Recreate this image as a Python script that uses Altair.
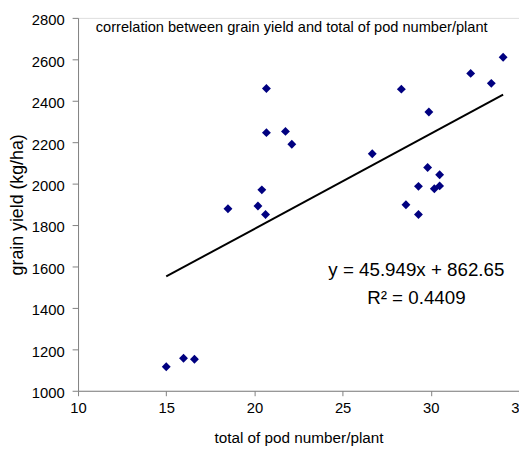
import altair as alt
import pandas as pd

# total of pod number/plant
pods = [15.0, 15.98, 16.6, 18.5, 20.2, 20.42, 20.63, 20.68, 20.68, 21.76, 22.12,
        26.68, 28.33, 28.59, 29.3, 29.3, 29.82, 29.89, 30.2, 30.5, 30.5,
        32.26, 33.43, 34.1]
# grain yield (kg/ha)
yield_ = [1116, 1157, 1152, 1879, 1892, 1970, 1851, 2459, 2246, 2252, 2190,
          2144, 2456, 1898, 1987, 1851, 2078, 2346, 1975, 1989, 2043,
          2532, 2484, 2610]

slope = 45.949
intercept = 862.65
eq_text = ["y = 45.949x + 862.65", "R² = 0.4409"]
title_text = "correlation between grain yield and total of pod number/plant"

df = pd.DataFrame({"pods": pods, "yield": yield_})
trend = pd.DataFrame({"pods": [min(pods), max(pods)]})

FONT = "Liberation Sans"

xscale = alt.Scale(domain=[10, 35], nice=False, zero=False)
yscale = alt.Scale(domain=[1000, 2800], nice=False, zero=False)

xaxis = alt.Axis(values=[10, 15, 20, 25, 30, 35], title="total of pod number/plant",
                 format="d",
                 grid=False, domainColor="#808080", tickColor="#808080",
                 tickSize=5, labelPadding=5, labelFontSize=15, labelColor="black",
                 titleFontSize=15.5, titleFontWeight="normal", titleColor="black",
                 titleX=223.5, titleY=47, titleBaseline="middle", titleAlign="center",
                 labelFont=FONT, titleFont=FONT, labelFlush=False,
                 labelOverlap=False)
yaxis = alt.Axis(values=list(range(1000, 2801, 200)), title="grain yield (kg/ha)",
                 format="d",
                 grid=False, domainColor="#808080", tickColor="#808080",
                 tickSize=6, labelPadding=8, labelFontSize=15, labelColor="black",
                 titleFontSize=18, titleFontWeight="normal", titleColor="black",
                 titleX=-61, titleY=189, titleBaseline="middle", titleAlign="center",
                 titleAngle=270,
                 labelFont=FONT, titleFont=FONT, labelFlush=False,
                 labelOverlap=False, labelOffset=2)

points = alt.Chart(df).mark_point(shape="diamond", filled=True, color="#000080",
                                  size=81, opacity=1).encode(
    x=alt.X("pods:Q", scale=xscale, axis=xaxis),
    y=alt.Y("yield:Q", scale=yscale, axis=yaxis),
)

line = alt.Chart(trend).transform_calculate(
    yhat=f"{slope} * datum.pods + {intercept}"
).mark_line(color="black", strokeWidth=2).encode(
    x=alt.X("pods:Q", scale=xscale),
    y=alt.Y("yhat:Q", scale=yscale),
)

eq1 = alt.Chart(pd.DataFrame({"t": [eq_text[0]]})).mark_text(
    font=FONT, fontSize=19, color="black", align="center", baseline="alphabetic"
).encode(x=alt.datum(29.18), y=alt.datum(1552), text="t:N")

eq2 = alt.Chart(pd.DataFrame({"t": [eq_text[1]]})).mark_text(
    font=FONT, fontSize=19, color="black", align="center", baseline="alphabetic"
).encode(x=alt.datum(29.18), y=alt.datum(1419), text="t:N")

title = alt.Chart(pd.DataFrame({"t": [title_text]})).mark_text(
    font=FONT, fontSize=14.8, color="black", align="left", baseline="alphabetic"
).encode(x=alt.value(18), y=alt.value(14), text="t:N")

chart = alt.layer(points, line, eq1, eq2, title).properties(
    width=447, height=378,
    autosize=alt.AutoSizeParams(type="none"),
    padding={"left": 71, "top": 7, "right": 0, "bottom": 57},
).configure_view(stroke=None).configure(background="white")

chart.save("out.html", embed_options={"renderer": "svg", "actions": False})
